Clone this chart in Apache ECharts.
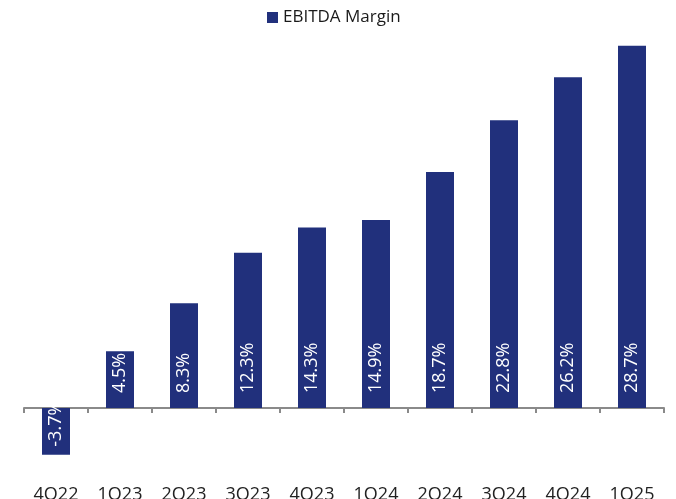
<!DOCTYPE html>
<html>
<head>
<meta charset="utf-8">
<script src="https://cdn.jsdelivr.net/npm/echarts@6/dist/echarts.min.js"></script>
<style>
  html, body { margin: 0; padding: 0; background: #fff; }
  #chart { width: 676px; height: 499px; }
</style>
</head>
<body>
<div id="chart"></div>
<script>
var quarters = ["4Q22", "1Q23", "2Q23", "3Q23", "4Q23", "1Q24", "2Q24", "3Q24", "4Q24", "1Q25"];
var ebitdaMargin = [-3.7, 4.5, 8.3, 12.3, 14.3, 14.9, 18.7, 22.8, 26.2, 28.7];

var barColor = "#21307c";
var fontName = "'Open Sans', 'Noto Sans', sans-serif";

var chart = echarts.init(document.getElementById("chart"));

var seriesData = ebitdaMargin.map(function (v) {
    var item = { value: v };
    if (v < 0) {
        // negative bar: label sits at the far end of the bar
        item.label = { position: "insideBottom", distance: 8 };
    }
    return item;
});

var option = {
    animation: false,
    legend: {
        top: 4,
        left: 262,
        itemWidth: 11,
        itemHeight: 11,
        icon: "rect",
        textStyle: { fontFamily: fontName, fontSize: 17, color: "#1a1a1a" },
        data: ["EBITDA Margin"]
    },
    grid: { left: 24, right: 12, top: 29.4, bottom: 15.3, containLabel: false, outerBoundsMode: "none" },
    xAxis: [
        {
            type: "category",
            data: quarters,
            axisLine: { onZero: true, lineStyle: { color: "#8a8a8a", width: 2 } },
            axisTick: { show: true, length: 5, lineStyle: { color: "#8a8a8a", width: 2 } },
            axisLabel: { show: false }
        },
        {
            // labels only, at the bottom edge of the plot
            type: "category",
            data: quarters,
            position: "bottom",
            axisLine: { show: false, onZero: false },
            axisTick: { show: false },
            axisLabel: {
                margin: 7,
                fontFamily: fontName,
                fontSize: 18,
                lineHeight: 8,
                verticalAlign: "top",
                color: "#222"
            }
        }
    ],
    yAxis: {
        type: "value",
        min: -6,
        max: 30,
        interval: 6,
        show: false,
        splitLine: { show: false }
    },
    series: [
        {
            name: "EBITDA Margin",
            type: "bar",
            barWidth: 28,
            data: seriesData,
            itemStyle: { color: barColor },
            label: {
                show: true,
                position: "insideBottom",
                distance: 15,
                rotate: 90,
                align: "left",
                verticalAlign: "middle",
                color: "#fff",
                fontFamily: fontName,
                fontSize: 18,
                formatter: function (p) { return p.value.toFixed(1) + "%"; }
            }
        }
    ]
};

chart.setOption(option);
</script>
</body>
</html>
